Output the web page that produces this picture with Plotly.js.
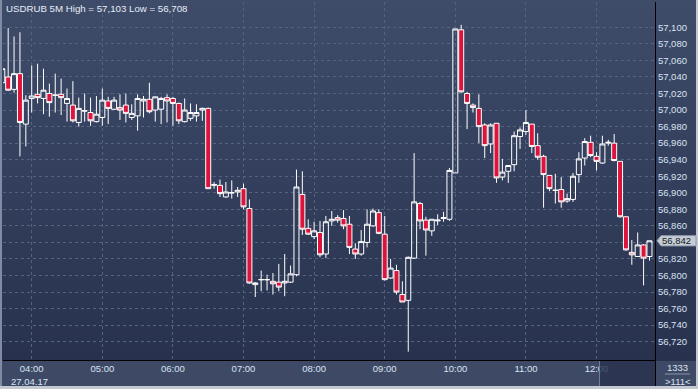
<!DOCTYPE html>
<html>
<head>
<meta charset="utf-8">
<script src="https://cdn.plot.ly/plotly-3.0.1.min.js"></script>
<style>
  html, body { margin: 0; padding: 0; background: #2b3652; }
  #wrap { position: relative; width: 698px; height: 389px; overflow: hidden;
          background: linear-gradient(to bottom, #3e4c6a 0px, #28324e 360px); }
  #strip { position: absolute; left: 0; top: 361px; width: 698px; height: 28px; background: #3e4a65; }
  #stripdark { position: absolute; left: 599px; top: 361px; width: 56px; height: 25px;
               background: rgba(40, 50, 78, 0.82); border-left: 1px solid #737e94; box-sizing: border-box; }
  #vline { position: absolute; left: 655px; top: 360px; width: 1px; height: 26px; background: #000; }
  #bl { position: absolute; left: 0; top: 0; width: 2px; height: 389px; background: #7f8ca4; }
  #bb { position: absolute; left: 0; top: 386px; width: 698px; height: 3px; background: #c4c8d0; }
  #br { position: absolute; left: 696px; top: 0; width: 2px; height: 389px; background: #c4c8d0; }
  #chart { position: absolute; left: 0; top: 0; width: 698px; height: 389px; }
</style>
</head>
<body>
<div id="wrap">
  <div id="strip"></div>
  <div id="bl"></div>
  <div id="bb"></div>
  <div id="br"></div>
  <div id="chart"></div>
  <div id="stripdark"></div>
  <div id="vline"></div>
</div>
<script>
// ---- data (USDRUB, 5-minute candles, 27.04.17, first bar 03:35) ----
var startTime = '2017-04-27 03:35';
var barMinutes = 5;

var openVals = [
  57.033, 57.040, 57.025, 57.044, 56.983, 57.014, 57.019, 57.014, 57.020, 57.018,
  57.019, 57.008, 57.006, 56.985, 56.999, 56.997, 56.986, 56.991, 57.011, 57.001,
  57.003, 57.006, 56.991, 56.993, 57.011, 57.013, 57.000, 57.001, 57.015, 57.014,
  57.008, 56.986, 56.990, 56.993, 57.000, 57.002, 56.909, 56.909, 56.895, 56.900,
  56.901, 56.905, 56.881, 56.789, 56.795, 56.795, 56.793, 56.792, 56.791, 56.792,
  56.801, 56.898, 56.857, 56.847, 56.852, 56.826, 56.866, 56.870, 56.869, 56.862,
  56.832, 56.826, 56.840, 56.860, 56.876, 56.850, 56.797, 56.806, 56.777, 56.770,
  56.821, 56.887, 56.867, 56.854, 56.866, 56.869, 56.868, 56.924, 57.097, 57.020,
  57.006, 57.002, 56.982, 56.959, 56.984, 56.919, 56.926, 56.934, 56.968, 56.974,
  56.983, 56.957, 56.944, 56.921, 56.903, 56.904, 56.890, 56.892, 56.922, 56.942,
  56.961, 56.944, 56.936, 56.960, 56.960, 56.938, 56.871, 56.828, 56.823, 56.837,
  56.823
];
var highVals = [
  57.053, 57.099, 57.089, 57.094, 57.018, 57.054, 57.056, 57.050, 57.032, 57.044,
  57.038, 57.026, 57.035, 57.015, 57.020, 57.015, 57.017, 57.026, 57.016, 57.016,
  57.019, 57.020, 57.007, 57.019, 57.017, 57.033, 57.016, 57.016, 57.019, 57.016,
  57.009, 57.014, 57.008, 57.007, 57.003, 57.003, 56.913, 56.916, 56.913, 56.915,
  56.907, 56.911, 56.892, 56.792, 56.806, 56.801, 56.803, 56.814, 56.826, 56.812,
  56.928, 56.926, 56.868, 56.865, 56.866, 56.872, 56.878, 56.873, 56.879, 56.872,
  56.839, 56.855, 56.880, 56.881, 56.880, 56.872, 56.820, 56.813, 56.793, 56.823,
  56.948, 56.889, 56.871, 56.868, 56.874, 56.877, 56.930, 57.098, 57.103, 57.022,
  57.008, 57.019, 56.984, 56.984, 56.984, 56.941, 56.933, 56.974, 56.979, 57.000,
  56.983, 56.972, 56.946, 56.921, 56.923, 56.919, 56.899, 56.924, 56.949, 56.966,
  56.969, 56.949, 56.969, 56.964, 56.971, 56.938, 56.871, 56.843, 56.852, 56.838,
  56.842
];
var lowVals = [
  57.029, 57.023, 57.021, 56.944, 56.956, 56.997, 57.008, 56.995, 56.992, 56.997,
  56.994, 56.986, 56.985, 56.980, 56.986, 56.981, 56.985, 56.981, 56.983, 57.000,
  56.988, 56.985, 56.988, 56.975, 56.991, 56.996, 56.986, 56.983, 56.985, 56.981,
  56.983, 56.985, 56.987, 56.986, 56.987, 56.905, 56.905, 56.895, 56.894, 56.893,
  56.895, 56.880, 56.790, 56.774, 56.781, 56.782, 56.777, 56.781, 56.775, 56.791,
  56.799, 56.849, 56.849, 56.844, 56.822, 56.821, 56.860, 56.864, 56.856, 56.826,
  56.820, 56.824, 56.834, 56.859, 56.850, 56.794, 56.796, 56.777, 56.768, 56.708,
  56.820, 56.856, 56.824, 56.848, 56.861, 56.865, 56.866, 56.924, 57.021, 56.977,
  56.997, 56.960, 56.942, 56.948, 56.912, 56.915, 56.912, 56.926, 56.953, 56.970,
  56.948, 56.940, 56.882, 56.902, 56.887, 56.882, 56.888, 56.889, 56.912, 56.933,
  56.943, 56.927, 56.935, 56.957, 56.938, 56.870, 56.830, 56.813, 56.823, 56.788,
  56.818
];
var closeVals = [
  57.050, 57.024, 57.044, 56.985, 57.012, 57.017, 57.015, 57.024, 57.009, 57.018,
  57.015, 57.014, 56.987, 57.002, 56.999, 56.987, 56.995, 57.012, 57.002, 57.012,
  57.000, 56.996, 56.996, 57.014, 57.013, 56.998, 57.016, 57.014, 57.011, 57.008,
  56.987, 57.000, 56.997, 56.997, 57.002, 56.905, 56.910, 56.899, 56.901, 56.900,
  56.903, 56.883, 56.791, 56.791, 56.795, 56.795, 56.790, 56.786, 56.793, 56.802,
  56.907, 56.856, 56.850, 56.854, 56.825, 56.865, 56.868, 56.867, 56.860, 56.834,
  56.826, 56.841, 56.862, 56.878, 56.851, 56.795, 56.809, 56.780, 56.768, 56.822,
  56.889, 56.866, 56.855, 56.868, 56.867, 56.870, 56.927, 57.098, 57.022, 57.008,
  57.003, 56.980, 56.957, 56.982, 56.918, 56.925, 56.933, 56.969, 56.976, 56.985,
  56.956, 56.943, 56.922, 56.905, 56.903, 56.889, 56.893, 56.920, 56.941, 56.962,
  56.945, 56.938, 56.959, 56.961, 56.939, 56.871, 56.831, 56.825, 56.837, 56.821,
  56.842
];

// price axis ticks (the 56,840 label is hidden behind the last-price marker)
var priceTicks = [56.72, 56.74, 56.76, 56.78, 56.80, 56.82, 56.84, 56.86, 56.88, 56.90,
                  56.92, 56.94, 56.96, 56.98, 57.00, 57.02, 57.04, 57.06, 57.08, 57.10];
var priceTickText = ['56,720', '56,740', '56,760', '56,780', '56,800', '56,820', '', '56,860',
                     '56,880', '56,900', '56,920', '56,940', '56,960', '56,980', '57,000',
                     '57,020', '57,040', '57,060', '57,080', '57,100'];

var chartTitle = 'USDRUB 5M High = 57,103 Low = 56,708';
var dateLabel = '27.04.17';
var lastPriceLabel = '56,842';
var lastPrice = 56.842;
var cornerTop = '1333';
var cornerBottom = '>111<';

// ---- time categories: one bar every 5 minutes ----
function fmt(d) {
  function p(n) { return (n < 10 ? '0' : '') + n; }
  return d.getFullYear() + '-' + p(d.getMonth() + 1) + '-' + p(d.getDate()) + ' ' +
         p(d.getHours()) + ':' + p(d.getMinutes());
}
var times = [];
var t0 = new Date(2017, 3, 27, 3, 35);
for (var i = 0; i < openVals.length; i++) {
  times.push(fmt(new Date(t0.getTime() + i * barMinutes * 60000)));
}

// plot area in pixels: x 3..655, y 2..360
var Y0 = 56.6979, Y1 = 57.1306;
function px2paperX(px) { return (px - 3) / 652; }
function px2paperY(py) { return (360 - py) / 358; }

var trace = {
  type: 'candlestick',
  x: times, open: openVals, high: highVals, low: lowVals, close: closeVals,
  increasing: { line: { color: '#ffffff', width: 1 }, fillcolor: 'rgba(0,0,0,0)' },
  decreasing: { line: { color: '#ffffff', width: 1 }, fillcolor: '#dc143c' },
  whiskerwidth: 0,
  hoverinfo: 'skip'
};

var tickFont = { family: 'Liberation Sans, Arial, sans-serif', size: 9.5, color: '#d9e3f2' };

var layout = {
  width: 698, height: 389,
  margin: { l: 3, r: 43, t: 2, b: 29, pad: 0 },
  paper_bgcolor: 'rgba(0,0,0,0)',
  plot_bgcolor: 'rgba(0,0,0,0)',
  separators: ',.',
  showlegend: false,
  boxgap: 0.15, boxgroupgap: 0,
  xaxis: {
    type: 'date',
    range: ['2017-04-27 03:35:36', '2017-04-27 12:49:42'],
    rangeslider: { visible: false },
    tick0: '2017-04-27 04:00', dtick: 3600000, tickformat: '%H:%M',
    showgrid: true, gridcolor: '#55637e', gridwidth: 1, griddash: '3px,3px',
    showline: true, linecolor: '#000000', linewidth: 1,
    ticks: '', zeroline: false, tickfont: tickFont, fixedrange: true
  },
  yaxis: {
    side: 'right',
    range: [Y0, Y1],
    tickmode: 'array', tickvals: priceTicks, ticktext: priceTickText,
    showgrid: true, gridcolor: '#55637e', gridwidth: 1, griddash: '3px,3px',
    showline: true, linecolor: '#000000', linewidth: 1,
    ticks: '', zeroline: false, tickfont: tickFont, fixedrange: true
  },
  shapes: [
    { type: 'path', xref: 'paper', yref: 'y',
      path: 'M ' + px2paperX(657) + ',' + lastPrice +
            ' L ' + px2paperX(661) + ',' + (lastPrice + 0.0062) +
            ' L ' + px2paperX(696) + ',' + (lastPrice + 0.0062) +
            ' L ' + px2paperX(696) + ',' + (lastPrice - 0.0062) +
            ' L ' + px2paperX(661) + ',' + (lastPrice - 0.0062) + ' Z',
      fillcolor: '#c6ccd6', line: { color: '#8e98aa', width: 1 } },
    { type: 'line', xref: 'paper', yref: 'paper',
      x0: px2paperX(665), x1: px2paperX(690), y0: px2paperY(374), y1: px2paperY(374),
      line: { color: '#8794ab', width: 1 } }
  ],
  annotations: [
    { text: chartTitle, xref: 'paper', yref: 'paper', x: px2paperX(4), y: px2paperY(9),
      xanchor: 'left', yanchor: 'middle', showarrow: false,
      font: { family: 'Liberation Sans, Arial, sans-serif', size: 9.7, color: '#e8edf6' } },
    { text: dateLabel, xref: 'x', yref: 'paper', x: '2017-04-27 04:00', xshift: -2,
      y: px2paperY(381), xanchor: 'center', yanchor: 'middle', showarrow: false, font: tickFont },
    { text: lastPriceLabel, xref: 'paper', yref: 'y', x: px2paperX(660), y: lastPrice,
      xanchor: 'left', yanchor: 'middle', showarrow: false,
      font: { family: 'Liberation Sans, Arial, sans-serif', size: 9.5, color: '#111822' } },
    { text: cornerTop, xref: 'paper', yref: 'paper', x: px2paperX(678), y: px2paperY(367.5),
      xanchor: 'center', yanchor: 'middle', showarrow: false, font: tickFont },
    { text: cornerBottom, xref: 'paper', yref: 'paper', x: px2paperX(678), y: px2paperY(381.5),
      xanchor: 'center', yanchor: 'middle', showarrow: false, font: tickFont }
  ]
};

Plotly.newPlot('chart', [trace], layout, { staticPlot: true, displayModeBar: false });
</script>
</body>
</html>
